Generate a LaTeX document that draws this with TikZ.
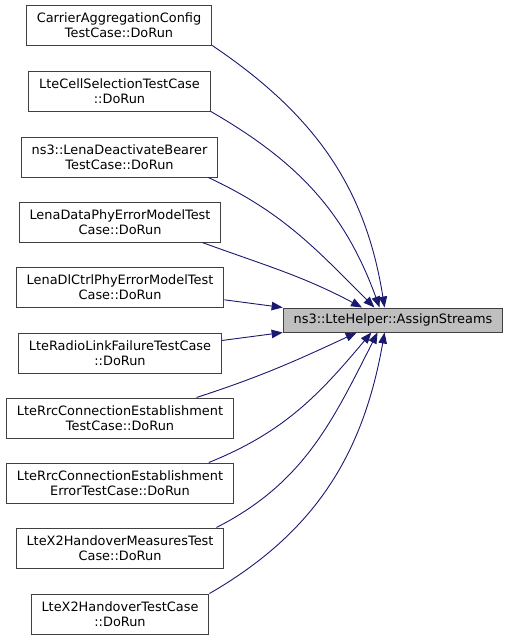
\documentclass[tikz,border=0pt]{standalone}
\usepackage{fontspec}
\setmainfont{DejaVu Sans}
\usetikzlibrary{arrows.meta}

\definecolor{edgeblue}{HTML}{191970}
\definecolor{boxgray}{HTML}{BFBFBF}

\begin{document}
\begin{tikzpicture}[x=1pt, y=1pt,
  every node/.style={draw=black!75, line width=1pt, align=center, inner xsep=10.5pt,
    minimum height=40pt, font=\fontsize{12.9}{15}\selectfont},
  call/.style={edgeblue, line width=0.9pt, -{Triangle[length=11pt,width=8.5pt]}}]

\useasboundingbox (0,0) rectangle (509,-640);

\node (c0) at (119,-25) {CarrierAggregationConfig\\TestCase::DoRun};
\node (c1) at (119.5,-91) {LteCellSelectionTestCase\\::DoRun};
\node (c2) at (119.5,-157) {ns3::LenaDeactivateBearer\\TestCase::DoRun};
\node (c3) at (120,-222) {LenaDataPhyErrorModelTest\\Case::DoRun};
\node (c4) at (120,-287) {LenaDlCtrlPhyErrorModelTest\\Case::DoRun};
\node (c5) at (120,-353) {LteRadioLinkFailureTestCase\\::DoRun};
\node (c6) at (120,-418) {LteRrcConnectionEstablishment\\TestCase::DoRun};
\node (c7) at (120,-483) {LteRrcConnectionEstablishment\\ErrorTestCase::DoRun};
\node (c8) at (120,-548) {LteX2HandoverMeasuresTest\\Case::DoRun};
\node (c9) at (120,-614) {LteX2HandoverTestCase\\::DoRun};

\node[fill=boxgray, minimum height=24pt] (t) at (393,-320) {ns3::LteHelper::AssignStreams};

\draw[call] (c0.south east) to[out=-34,in=99] (t.124);
\draw[call] (c1.south east) to[out=-30,in=110] (t.137);
\draw[call] (c2.347) to[out=-25,in=135] (t.146);
\draw[call] (c3.346) to[out=-20,in=152] (t.158);
\draw[call] (c4.353) -- (t.north west);
\draw[call] (c5.7) -- (t.south west);
\draw[call] (c6.15) to[out=18,in=-155] (t.199);
\draw[call] (c7.13) to[out=22,in=-130] (t.210);
\draw[call] (c8.12) to[out=27,in=-117] (t.219);
\draw[call] (c9.north east) to[out=30,in=-100] (t.236);

\end{tikzpicture}
\end{document}
